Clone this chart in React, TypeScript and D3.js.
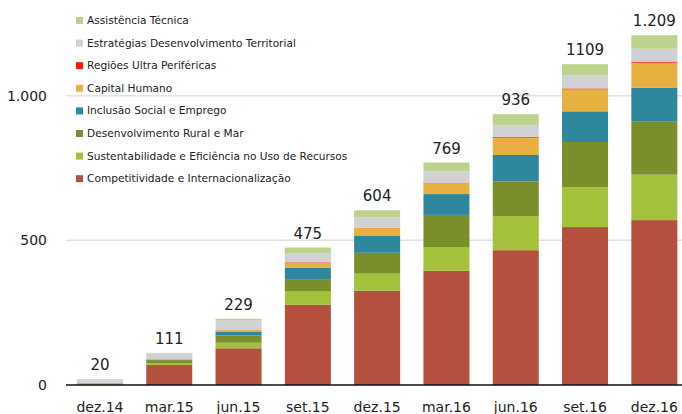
import React, { useEffect, useRef } from 'react';
import * as d3 from 'd3';

const periods = ['dez.14', 'mar.15', 'jun.15', 'set.15', 'dez.15', 'mar.16', 'jun.16', 'set.16', 'dez.16'];
const totalLabels = ['20', '111', '229', '475', '604', '769', '936', '1109', '1.209'];

const seriesNames = [
  'Competitividade e Internacionalização',
  'Sustentabilidade e Eficiência no Uso de Recursos',
  'Desenvolvimento Rural e Mar',
  'Inclusão Social e Emprego',
  'Capital Humano',
  'Regiões Ultra Periféricas',
  'Estratégias Desenvolvimento Territorial',
  'Assistência Técnica',
];
const seriesColors = ['#b5503e', '#a3c13a', '#7a8f2b', '#2f879d', '#e8b041', '#ff1a00', '#d0d1d3', '#bdd38d'];

const competitividade = [2, 69, 127, 277, 326, 395, 466, 546, 570];
const sustentabilidade = [1, 6, 19, 46, 59, 82, 118, 137, 157];
const desenvRural = [2, 11, 25, 43, 72, 111, 120, 157, 183];
const inclusao = [1, 1, 14, 40, 60, 72, 91, 106, 118];
const capitalHumano = [2, 3, 5, 16, 25, 35, 60, 76, 86];
const regioes = [0, 1, 0, 2, 1, 2, 3, 3, 4];
const estrategias = [10, 18, 34, 32, 37, 41, 41, 45, 44];
const assistencia = [2, 2, 5, 19, 24, 31, 37, 39, 47];

const seriesValues = [competitividade, sustentabilidade, desenvRural, inclusao, capitalHumano, regioes, estrategias, assistencia];

const yTicks = [0, 500, 1000];
const fmt = (v: number) => (v >= 1000 ? d3.format(',')(v).replace(',', '.') : String(v));

export default function App() {
  const svgRef = useRef<SVGSVGElement>(null);

  useEffect(() => {
    const svg = d3.select(svgRef.current);
    svg.selectAll('*').remove();
    const width = 682;
    const font = 'DejaVu Sans, Verdana, sans-serif';

    const rows = periods.map((p, i) => {
      const r: any = { period: p };
      seriesNames.forEach((n, s) => (r[n] = seriesValues[s][i]));
      return r;
    });
    const stacked = d3.stack().keys(seriesNames)(rows);

    const x = d3.scaleBand().domain(periods).range([65.3, 689]).paddingInner(0.336).paddingOuter(0.168);
    const y = d3.scaleLinear().domain([0, 1000]).range([385, 95.7]);

    // grid
    svg.append('g')
      .selectAll('line')
      .data(yTicks.filter(t => t > 0))
      .enter()
      .append('line')
      .attr('x1', 66).attr('x2', width)
      .attr('y1', d => y(d)).attr('y2', d => y(d))
      .attr('stroke', '#e2e2e2').attr('stroke-width', 1.5);

    svg.append('g')
      .selectAll('text')
      .data(yTicks)
      .enter()
      .append('text')
      .attr('x', 47).attr('y', d => y(d) + 5)
      .attr('text-anchor', 'end')
      .attr('font-family', font).attr('font-size', 14).attr('fill', '#222')
      .text(d => fmt(d));

    // bars
    svg.append('g')
      .selectAll('g')
      .data(stacked)
      .enter()
      .append('g')
      .attr('fill', (_, i) => seriesColors[i])
      .selectAll('rect')
      .data(d => d)
      .enter()
      .append('rect')
      .attr('x', d => x(d.data.period as string)!)
      .attr('width', x.bandwidth())
      .attr('y', d => y(d[1]))
      .attr('height', d => Math.max(0, y(d[0]) - y(d[1])));

    // axis line
    svg.append('line')
      .attr('x1', 66).attr('x2', width)
      .attr('y1', 385).attr('y2', 385)
      .attr('stroke', '#111').attr('stroke-width', 1.5);

    // x labels
    svg.append('g')
      .selectAll('text')
      .data(periods)
      .enter()
      .append('text')
      .attr('x', d => x(d)! + x.bandwidth() / 2)
      .attr('y', 412)
      .attr('text-anchor', 'middle')
      .attr('font-family', font).attr('font-size', 14).attr('fill', '#222')
      .text(d => d);

    // total labels
    const top = stacked[stacked.length - 1];
    svg.append('g')
      .selectAll('text')
      .data(top)
      .enter()
      .append('text')
      .attr('x', d => x(d.data.period as string)! + x.bandwidth() / 2)
      .attr('y', d => y(d[1]) - 9)
      .attr('text-anchor', 'middle')
      .attr('font-family', font).attr('font-size', 15).attr('fill', '#222')
      .text((_, i) => totalLabels[i]);

    // legend (top entry first)
    const legend = svg.append('g');
    const order = seriesNames.map((_, i) => i).reverse();
    order.forEach((s, k) => {
      const ly = 20 + k * 22.6;
      legend.append('rect')
        .attr('x', 76).attr('y', ly - 3).attr('width', 7).attr('height', 7)
        .attr('fill', seriesColors[s]);
      legend.append('text')
        .attr('x', 87).attr('y', ly + 4)
        .attr('font-family', font).attr('font-size', 10.6).attr('fill', '#222')
        .text(seriesNames[s]);
    });
  }, []);

  return (
    <svg ref={svgRef} width={682} height={414} style={{ position: 'absolute', left: 0, top: 0, background: '#fff' }} />
  );
}
